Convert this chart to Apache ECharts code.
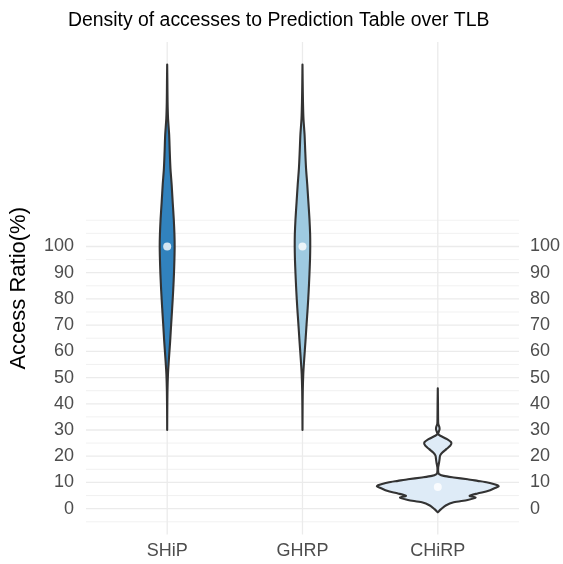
<!DOCTYPE html>
<html>
<head>
<meta charset="utf-8">
<script src="https://cdn.jsdelivr.net/npm/echarts@6/dist/echarts.min.js"></script>
<style>
  html, body { margin: 0; padding: 0; background: #ffffff; }
  #chart { width: 563px; height: 564px; }
</style>
</head>
<body>
<div id="chart"></div>
<script>
// ---- data ----
const categories = ['SHiP', 'GHRP', 'CHiRP'];
const yTickLabels = [0, 10, 20, 30, 40, 50, 60, 70, 80, 90, 100];
const yMinorLines = [-5, 5, 15, 25, 35, 45, 55, 65, 75, 85, 95, 105, 110];
const fillColors = ['#3182bd', '#9ecae1', '#deebf7'];
const medians = [100, 100, 8.3];

// violin profiles: [access ratio, relative density]
const shipProfile = [
  [169.4, 0], [162.7, 0.2], [155.1, 0.4], [148.7, 0.9], [142.6, 2.0], [136.1, 2.6],
  [129.7, 3.3], [123.6, 4.5], [117.1, 5.5], [110.6, 6.6], [104.6, 7.3], [100, 7.5],
  [95.4, 7.3], [89.4, 6.8], [82.9, 6.0], [76.4, 5.0], [70.3, 4.0], [63.9, 3.0],
  [57.4, 1.8], [51.3, 0.8], [44.9, 0.3], [37.3, 0.1], [30, 0]
];
const ghrpProfile = [
  [169.4, 0], [162.7, 0.2], [155.1, 0.5], [148.7, 1.0], [142.6, 2.1], [136.1, 2.8],
  [129.7, 3.6], [123.6, 4.8], [117.1, 5.9], [110.6, 7.0], [104.6, 7.7], [100, 7.8],
  [95.4, 7.6], [89.4, 7.0], [82.9, 6.2], [76.4, 5.2], [70.3, 4.1], [63.9, 3.0],
  [57.4, 1.8], [51.3, 0.8], [44.9, 0.3], [37.3, 0.1], [30, 0]
];
const chirpProfile = [
  [45.9, 0], [40, 0.2], [35, 0.3], [32.3, 0.5], [31.2, 1.5], [30.3, 1.8], [29.3, 1.0],
  [28.4, 0.4], [27.8, 2.5], [26.5, 9.3], [25.2, 13.6], [24.0, 12.6], [22.7, 8.6],
  [21.4, 4.6], [20.2, 2.3], [18.9, 1.8], [17.6, 1.3], [15.7, 0.4], [13.8, 0.5],
  [13.2, 1.3], [12.5, 6], [11.9, 16], [11.2, 30], [10.6, 40], [10.0, 50], [9.4, 56],
  [8.9, 60], [8.5, 61.2], [7.8, 57], [6.8, 51], [5.8, 40], [4.9, 32], [4.2, 38],
  [3.3, 30], [2.4, 16], [1.2, 8], [-0.2, 3.3], [-1.4, 0]
];
const profiles = [shipProfile, ghrpProfile, chirpProfile];

// ---- chart ----
const FONT = 'Liberation Sans, Arial, Helvetica, sans-serif';
const maxDensity = Math.max(...profiles.flat().map(p => p[1]));
const halfWidth = 0.45; // half of 0.9 category width

const chart = echarts.init(document.getElementById('chart'), null, { renderer: 'canvas' });

const gridItems = []
  .concat(yTickLabels.map(v => ['h', v, 1]))
  .concat(yMinorLines.map(v => ['h', v, 0]))
  .concat(categories.map((c, i) => ['v', i + 1, 1]));

const option = {
  backgroundColor: '#ffffff',
  animation: false,
  title: {
    text: 'Density of accesses to Prediction Table over TLB',
    left: 68, top: 11, padding: 0,
    textStyle: { fontFamily: FONT, fontSize: 19.4, fontWeight: 'normal', color: '#000000' }
  },
  grid: { left: 86, right: 42, top: 42, bottom: 29.4, containLabel: false },
  xAxis: {
    type: 'value', min: 0.4, max: 3.6,
    axisLine: { show: false }, axisTick: { show: false }, splitLine: { show: false },
    axisLabel: {
      customValues: [1, 2, 3],
      formatter: v => categories[Math.round(v) - 1] || '',
      fontFamily: FONT, fontSize: 18, color: '#4d4d4d', margin: 7
    }
  },
  yAxis: [{
    type: 'value', min: -9.9, max: 178, position: 'left',
    name: 'Access Ratio(%)', nameLocation: 'middle', nameRotate: 90, nameGap: 56,
    nameTextStyle: { fontFamily: FONT, fontSize: 22, color: '#000000' },
    axisLine: { show: false }, axisTick: { show: false }, splitLine: { show: false },
    axisLabel: { customValues: yTickLabels, fontFamily: FONT, fontSize: 18, color: '#4d4d4d', margin: 12 }
  }, {
    type: 'value', min: -9.9, max: 178, position: 'right',
    axisLine: { show: false }, axisTick: { show: false }, splitLine: { show: false },
    axisLabel: { customValues: yTickLabels, fontFamily: FONT, fontSize: 18, color: '#4d4d4d', margin: 11 }
  }],
  series: [{
    type: 'custom', name: 'grid', silent: true, z: 1,
    data: gridItems.map((g, i) => [i]),
    renderItem: function (params, api) {
      const g = gridItems[params.dataIndex];
      const cs = params.coordSys;
      const lw = g[2] ? 1.3 : 0.7;
      if (g[0] === 'h') {
        const y = api.coord([1, g[1]])[1];
        return { type: 'line', shape: { x1: cs.x, y1: y, x2: cs.x + cs.width, y2: y },
          style: { stroke: '#ebebeb', lineWidth: lw } };
      }
      const x = api.coord([g[1], 0])[0];
      return { type: 'line', shape: { x1: x, y1: cs.y, x2: x, y2: cs.y + cs.height },
        style: { stroke: '#ebebeb', lineWidth: lw } };
    }
  }, {
    type: 'custom', name: 'violin', z: 3,
    data: categories.map((c, i) => [i + 1, medians[i]]),
    renderItem: function (params, api) {
      const i = params.dataIndex;
      const prof = profiles[i];
      const cx = i + 1;
      const right = prof.map(p => api.coord([cx + p[1] / maxDensity * halfWidth, p[0]]));
      const left = prof.slice().reverse().map(p => api.coord([cx - p[1] / maxDensity * halfWidth, p[0]]));
      return {
        type: 'polygon',
        shape: { points: right.concat(left), smooth: 0.25 },
        style: { fill: fillColors[i], stroke: '#333333', lineWidth: 2.1, lineJoin: 'round' }
      };
    }
  }, {
    type: 'scatter', name: 'median', z: 5,
    data: categories.map((c, i) => [i + 1, medians[i]]),
    symbol: 'circle', symbolSize: 8,
    itemStyle: { color: '#ffffff' }
  }]
};
chart.setOption(option);
</script>
</body>
</html>
